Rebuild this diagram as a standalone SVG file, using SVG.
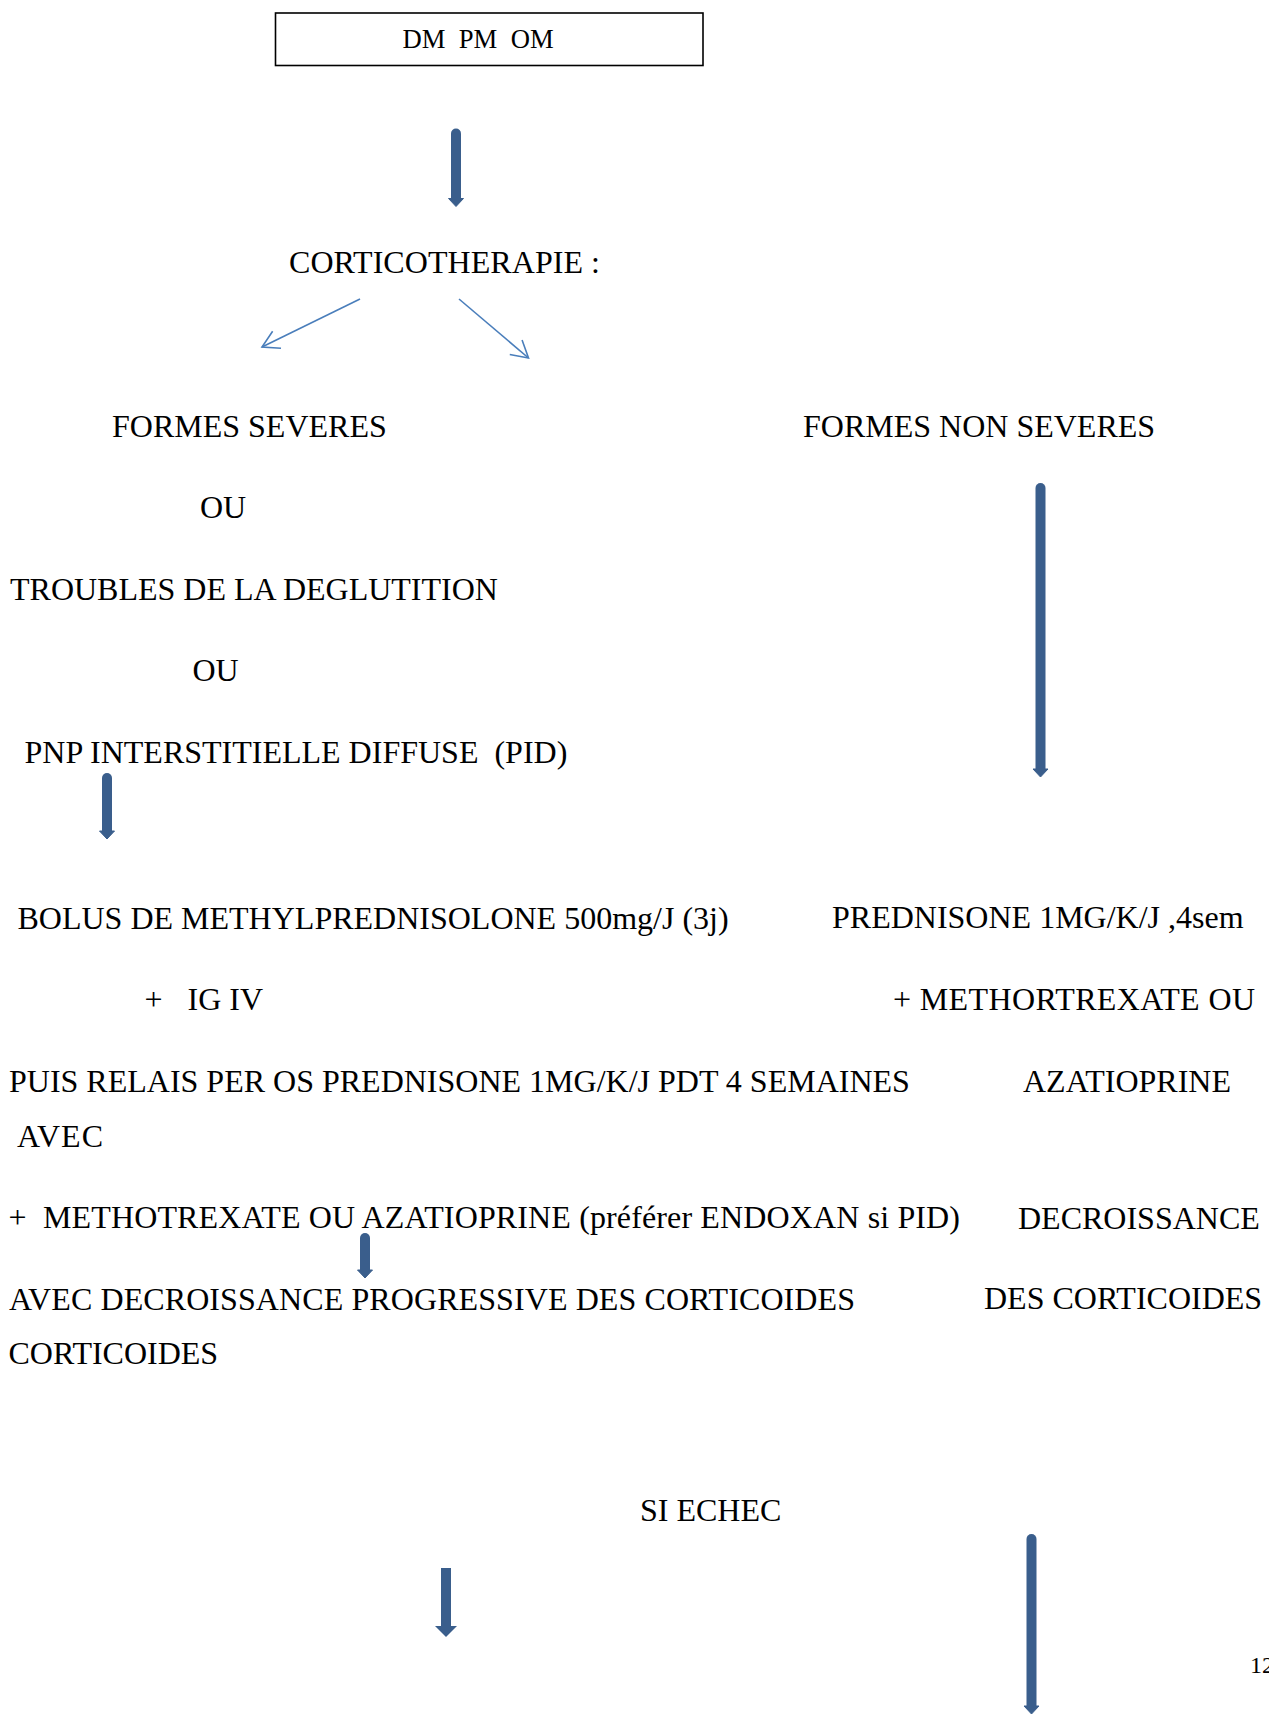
<svg xmlns="http://www.w3.org/2000/svg" width="1269" height="1714" viewBox="0 0 1269 1714">
<style>
  text { font-family: "Liberation Serif", "Times New Roman", serif; font-size: 32px; fill: #000; }
  .small { font-size: 26.67px; }
  .pg { font-size: 24px; }
  .box { fill: #fff; stroke: #000; stroke-width: 1.6; }
  .thick { stroke: #3a5e8c; stroke-width: 10; stroke-linecap: round; fill: none; marker-end: url(#headS); }
  .thickButt { stroke: #3a5e8c; stroke-width: 10; stroke-linecap: butt; fill: none; marker-end: url(#headL); }
  .thin { stroke: #4a7ebb; stroke-width: 1.6; fill: none; marker-end: url(#openV); }
</style>
<defs>
  <marker id="headS" markerUnits="userSpaceOnUse" viewBox="-2 -10 14 20" refX="0" refY="0" markerWidth="14" markerHeight="20" orient="auto" overflow="visible">
    <path d="M0,-7.5 L8,0 L0,7.5 Z" fill="#3a5e8c" stroke="#3a5e8c" stroke-width="1" stroke-linejoin="round"/>
  </marker>
  <marker id="headL" markerUnits="userSpaceOnUse" viewBox="-2 -13 16 26" refX="0" refY="0" markerWidth="16" markerHeight="26" orient="auto" overflow="visible">
    <path d="M0,-11 L11,0 L0,11 Z" fill="#3a5e8c"/>
  </marker>
  <marker id="openV" markerUnits="userSpaceOnUse" viewBox="-20 -12 22 24" refX="0" refY="0" markerWidth="22" markerHeight="24" orient="auto" overflow="visible">
    <path d="M-16.5,-9.5 L0,0 L-16.5,9.5" fill="none" stroke="#4a7ebb" stroke-width="1.6"/>
  </marker>
</defs>
<rect width="1269" height="1714" fill="#fff"/>

<g id="node-dmpmom">
  <rect class="box" x="275.5" y="13" width="427.5" height="52.5"/>
  <text class="small" x="402.5" y="48" xml:space="preserve">DM  PM  OM</text>
</g>
<g id="node-cortico"><text x="289" y="273" textLength="311" lengthAdjust="spacing">CORTICOTHERAPIE :</text></g>
<g id="node-severes"><text x="112" y="437">FORMES SEVERES</text></g>
<g id="node-nonseveres"><text x="803" y="437">FORMES NON SEVERES</text></g>
<g id="node-ou1"><text x="200" y="518">OU</text></g>
<g id="node-troubles"><text x="10" y="600">TROUBLES DE LA DEGLUTITION</text></g>
<g id="node-ou2"><text x="192.5" y="681">OU</text></g>
<g id="node-pnp"><text x="24.5" y="763" xml:space="preserve">PNP INTERSTITIELLE DIFFUSE  (PID)</text></g>

<g id="node-bolus">
  <text x="17.5" y="929">BOLUS DE METHYLPREDNISOLONE 500mg/J (3j)</text>
  <text y="1010"><tspan x="144.5">+</tspan><tspan x="187.5">IG IV</tspan></text>
  <text x="9" y="1092">PUIS RELAIS PER OS PREDNISONE 1MG/K/J PDT 4 SEMAINES</text>
  <text x="17" y="1147" textLength="86" lengthAdjust="spacing">AVEC</text>
  <text y="1228"><tspan x="8.5">+</tspan><tspan x="43" textLength="917" lengthAdjust="spacing">METHOTREXATE OU AZATIOPRINE (préférer ENDOXAN si PID)</tspan></text>
  <text x="9" y="1310" textLength="846" lengthAdjust="spacing">AVEC DECROISSANCE PROGRESSIVE DES CORTICOIDES</text>
  <text x="8.5" y="1364">CORTICOIDES</text>
</g>

<g id="node-prednisone">
  <text x="832" y="928">PREDNISONE 1MG/K/J ,4sem</text>
  <text x="893" y="1010" textLength="362" lengthAdjust="spacing">+ METHORTREXATE OU</text>
  <text x="1023" y="1092">AZATIOPRINE</text>
  <text x="1018" y="1229">DECROISSANCE</text>
  <text x="984" y="1309">DES CORTICOIDES</text>
</g>

<g id="node-echec"><text x="640" y="1521">SI ECHEC</text></g>
<g id="page-number"><text class="pg" x="1250" y="1673">12</text></g>

<g id="connectors">
  <line class="thick" x1="456" y1="133.5" x2="456" y2="198.5"/>
  <line class="thin" x1="360" y1="299" x2="262" y2="347"/>
  <line class="thin" x1="459" y1="299" x2="528.5" y2="358"/>
  <line class="thick" x1="1040.5" y1="488" x2="1040.5" y2="769"/>
  <line class="thick" x1="107" y1="778" x2="107" y2="831"/>
  <line class="thick" x1="365" y1="1238" x2="365" y2="1270"/>
  <line class="thickButt" x1="446" y1="1568" x2="446" y2="1626"/>
  <line class="thick" x1="1031.5" y1="1539" x2="1031.5" y2="1706"/>
</g>
</svg>
